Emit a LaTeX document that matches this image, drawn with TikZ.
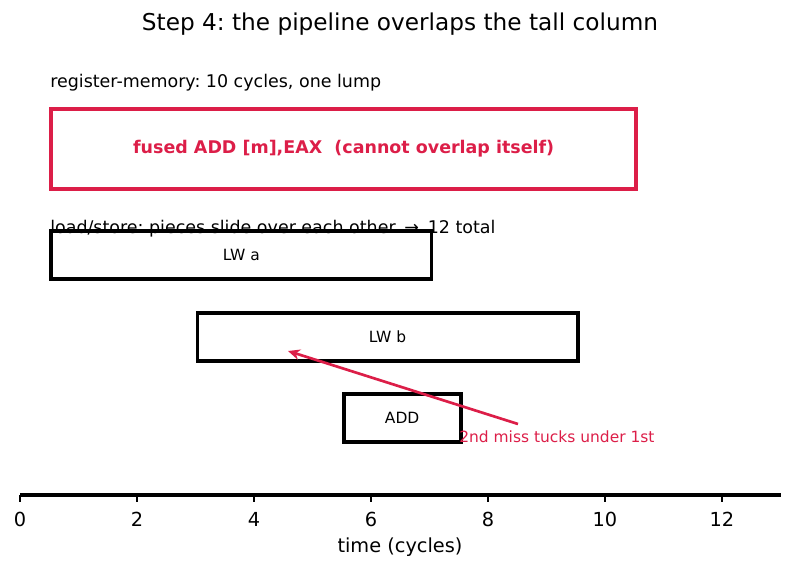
\documentclass[tikz,border=0pt]{standalone}
\usepackage{fontspec}
\setmainfont{DejaVu Sans}
\usetikzlibrary{arrows.meta}
\frenchspacing
\definecolor{crim}{RGB}{220,30,72}
\tikzset{
  px/.style={x=0.75pt,y=-0.75pt},
  bar/.style={draw=black,line width=2.9pt,inner sep=0pt,anchor=north west},
  redbar/.style={draw=crim,line width=2.9pt,inner sep=0pt,anchor=north west},
  lbl/.style={font=\fontsize{11.6}{13}\selectfont,inner sep=0pt},
  tick/.style={font=\fontsize{14.5}{16}\selectfont,inner sep=0pt},
}
\begin{document}
\begin{tikzpicture}[px]
\useasboundingbox (0,0) rectangle (794,571);
\node[inner sep=0pt,font=\fontsize{17.4}{19}\selectfont] (title) at (400,24) {Step 4: the pipeline overlaps the tall column};
\node[inner sep=0pt,anchor=west,font=\fontsize{13.1}{15}\selectfont] (rmtext) at (50,83) {register-memory: 10 cycles, one lump};
\node[redbar,minimum width=585pt*0.75,minimum height=80pt*0.75] (fused) at (49.25,107) {};
\node[font=\bfseries\fontsize{13.1}{15}\selectfont,text=crim,inner sep=0pt] (fusedlbl) at (fused.center) {fused ADD [m],EAX\ \ (cannot overlap itself)};
\node[bar,minimum width=380.25pt*0.75,minimum height=48pt*0.75] (lwa) at (49.25,229) {};
\node[lbl] at (lwa.center) {LW a};
\node[bar,minimum width=380.25pt*0.75,minimum height=48pt*0.75] (lwb) at (195.5,311) {};
\node[lbl] at (lwb.center) {LW b};
\node[bar,minimum width=117pt*0.75,minimum height=48pt*0.75] (add) at (341.75,392) {};
\node[lbl] at (add.center) {ADD};
\node[inner sep=0pt,anchor=west,font=\fontsize{13.1}{15}\selectfont] (lstext) at (50,229) {load/store: pieces slide over each other\enspace→\enspace 12 total};
\coordinate (astart) at (518,424);
\coordinate (aend) at (288,351);
\draw[crim,line width=2pt,-{Stealth[length=9pt,width=8pt]}] (astart) -- (aend);
\node[inner sep=0pt,anchor=west,text=crim,font=\fontsize{11.6}{13}\selectfont] (note) at (459,437) {2nd miss tucks under 1st};
% axis
\draw[line width=2.9pt] (20,495) -- (781,495);
\foreach \v in {0,2,...,12} {
  \draw[line width=0.9pt] (20+58.5*\v,495) -- (20+58.5*\v,502);
  \node[tick] at (20+58.5*\v,519) {\v};
}
\node[tick] (xlab) at (400,547) {time (cycles)};
\end{tikzpicture}
\end{document}
